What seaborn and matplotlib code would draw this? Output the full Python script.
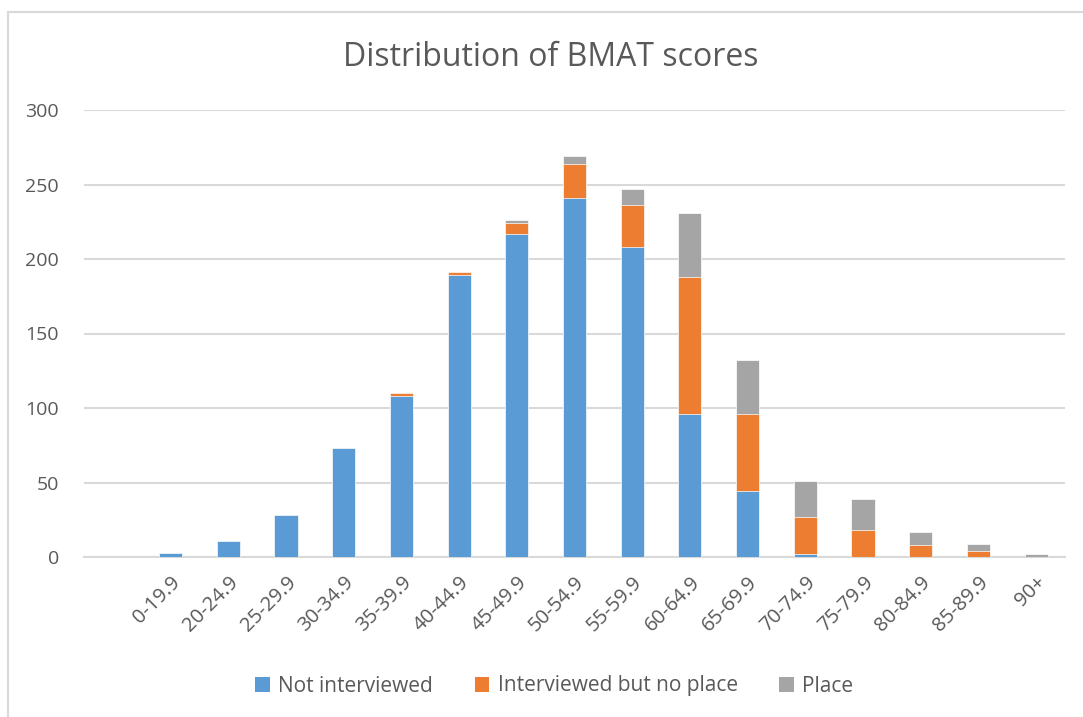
import matplotlib
matplotlib.use('Agg')
import matplotlib.pyplot as plt
import seaborn as sns
import numpy as np
import pandas as pd
from matplotlib.patches import Patch
from matplotlib.lines import Line2D

# --- DATA ---
bands = ["", "0-19.9", "20-24.9", "25-29.9", "30-34.9", "35-39.9", "40-44.9",
         "45-49.9", "50-54.9", "55-59.9", "60-64.9", "65-69.9", "70-74.9",
         "75-79.9", "80-84.9", "85-89.9", "90+"]
not_interviewed = [0, 3, 11, 28, 73, 108, 189, 217, 241, 208, 96, 44, 2, 0, 0, 0, 0]
interviewed_no_place = [0, 0, 0, 0, 0, 2, 2, 7, 23, 28, 92, 52, 25, 18, 8, 4, 0]
place = [0, 0, 0, 0, 0, 0, 0, 2, 5, 11, 43, 36, 24, 21, 9, 5, 2]

series_names = ["Not interviewed", "Interviewed but no place", "Place"]
colors = ["#5B9BD5", "#ED7D31", "#A5A5A5"]

# cumulative tops so the stack can be drawn back to front
df = pd.DataFrame({"band": bands,
                   "blue": not_interviewed,
                   "orange": np.add(not_interviewed, interviewed_no_place),
                   "gray": np.add(np.add(not_interviewed, interviewed_no_place), place)})

sns.set_style("white")
plt.rcParams['font.family'] = ['Open Sans', 'DejaVu Sans']
text_col = "#595959"

fig = plt.figure(figsize=(10.83, 7.17), dpi=100)
ax = fig.add_axes([84 / 1083, 1 - 557 / 717, 981 / 1083, (557 - 110) / 717])

for col, c in zip(["gray", "orange", "blue"], colors[::-1]):
    sns.barplot(data=df, x="band", y=col, color=c, width=0.4, ax=ax,
                edgecolor="white", linewidth=0.5, saturation=1, zorder=3)

ax.set_ylim(0, 300)
ax.set_xlim(-0.5, len(bands) - 0.5)
ax.set_yticks(range(0, 301, 50))
ax.yaxis.grid(True, color="#D9D9D9", linewidth=1.5, zorder=0)
ax.set_axisbelow(True)
for s in ["top", "right", "left"]:
    ax.spines[s].set_visible(False)
ax.spines["bottom"].set_color("#D9D9D9")
ax.spines["bottom"].set_linewidth(1.5)
ax.set_xlabel("")
ax.set_ylabel("")
ax.tick_params(axis="y", length=0, pad=18, labelsize=14, labelcolor=text_col)
ax.tick_params(axis="x", length=0, pad=11, labelsize=14.5, labelcolor=text_col)
plt.setp(ax.get_xticklabels(), rotation=45, ha="right", rotation_mode="anchor")

fig.text(0.509, 1 - 58 / 717, "Distribution of BMAT scores", ha="center", va="center",
         fontsize=23, color=text_col)

handles = [Patch(facecolor=c, edgecolor="none") for c in colors]
fig.legend(handles, series_names, loc="center", bbox_to_anchor=(0.512, 1 - 686 / 717),
           ncol=3, frameon=False, fontsize=15, labelcolor=text_col,
           handlelength=0.7, handleheight=0.7, handletextpad=0.4, columnspacing=2.0)

# chart frame (only left and top edges visible in the crop)
fig.add_artist(Line2D([8 / 1083, 8 / 1083], [0, 1 - 12 / 717], color="#D9D9D9", lw=1.5))
fig.add_artist(Line2D([8 / 1083, 1], [1 - 12 / 717, 1 - 12 / 717], color="#D9D9D9", lw=1.5))

fig.savefig("out.png", dpi=100)
